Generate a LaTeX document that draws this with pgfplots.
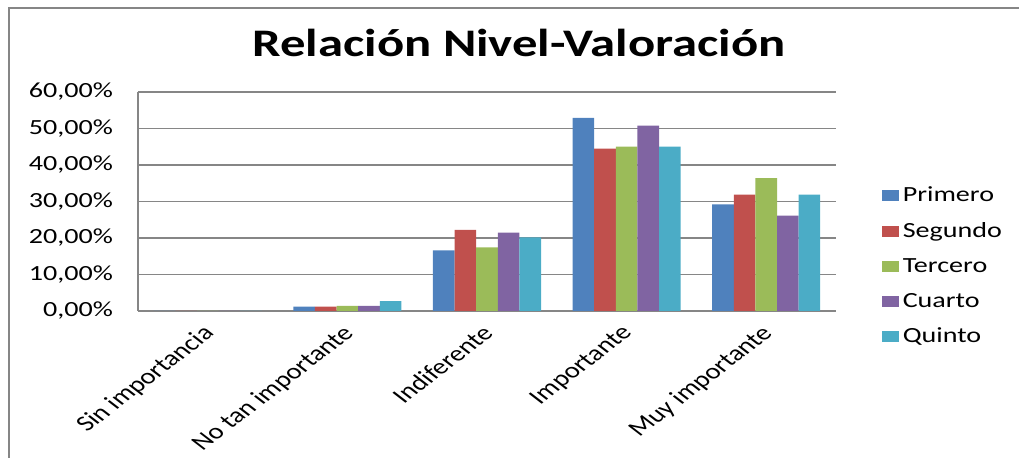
\documentclass[border=0pt]{standalone}
\usepackage{fontspec}
\setmainfont[FakeStretch=1.3]{Carlito}
\newfontfamily\plainfont{Carlito}
\usepackage{pgfplots}
\pgfplotsset{compat=1.18}
\definecolor{c1}{HTML}{4F81BD}
\definecolor{c2}{HTML}{C0504D}
\definecolor{c3}{HTML}{9BBB59}
\definecolor{c4}{HTML}{8064A2}
\definecolor{c5}{HTML}{4BACC6}
\definecolor{gridc}{HTML}{868686}
\begin{document}
\begin{tikzpicture}
\path[use as bounding box] (0,0) rectangle (509.5pt,-229pt);
\draw[gridc, line width=1.2pt] (4.5pt,-232pt) -- (4.5pt,-4pt) -- (512pt,-4pt);
\node[anchor=base, font=\fontsize{19.5}{22}\selectfont\bfseries] at (259.5pt,-28.5pt) {Relación Nivel-Valoración};
\begin{axis}[
  at={(69pt,-155.5pt)}, anchor=south west,
  scale only axis, width=349pt, height=109.5pt,
  ybar=0pt, bar width=10.8pt,
  xmin=-0.5, xmax=4.5, ymin=0, ymax=60,
  xtick={0,1,2,3,4},
  xticklabels={Sin importancia, No tan importante, Indiferente, Importante, Muy importante},
  ytick={0,10,20,30,40,50,60},
  yticklabels={{0,00\%},{10,00\%},{20,00\%},{30,00\%},{40,00\%},{50,00\%},{60,00\%}},
  axis x line*=bottom, axis y line*=left,
  axis line style={gridc, line width=0.7pt},
  major tick length=0pt,
  ymajorgrids, grid style={gridc, line width=0.7pt},
  tick label style={font=\fontsize{10.8}{13}\selectfont, text=black},
  yticklabel style={anchor=east, xshift=-9pt},
  xticklabel style={font=\plainfont\fontsize{11}{13}\selectfont, anchor=north east, xshift=-3.3pt, yshift=-1.4pt, cm={0.919,0.707,-0.919,0.707,(0pt,0pt)}},
  /pgf/number format/assume math mode=true,
  legend style={at={(1.065,0.205)}, anchor=west, draw=none, fill=none,
    font=\fontsize{10.8}{13}\selectfont, row sep=5.0pt, inner sep=0pt,
    legend cell align=left},
  legend image code/.code={\fill[#1] (0pt,-2.75pt) rectangle (8.5pt,2.75pt);},
]
\addplot[fill=c1, draw=none] coordinates {(0,0) (1,1.2) (2,16.6) (3,52.9) (4,29.2)};
\addplot[fill=c2, draw=none] coordinates {(0,0) (1,1.2) (2,22.2) (3,44.5) (4,31.9)};
\addplot[fill=c3, draw=none] coordinates {(0,0) (1,1.4) (2,17.4) (3,45.0) (4,36.4)};
\addplot[fill=c4, draw=none] coordinates {(0,0) (1,1.4) (2,21.5) (3,50.8) (4,26.1)};
\addplot[fill=c5, draw=none] coordinates {(0,0) (1,2.7) (2,20.2) (3,45.0) (4,31.9)};
\legend{Primero, Segundo, Tercero, Cuarto, Quinto}
\end{axis}
\end{tikzpicture}
\end{document}
